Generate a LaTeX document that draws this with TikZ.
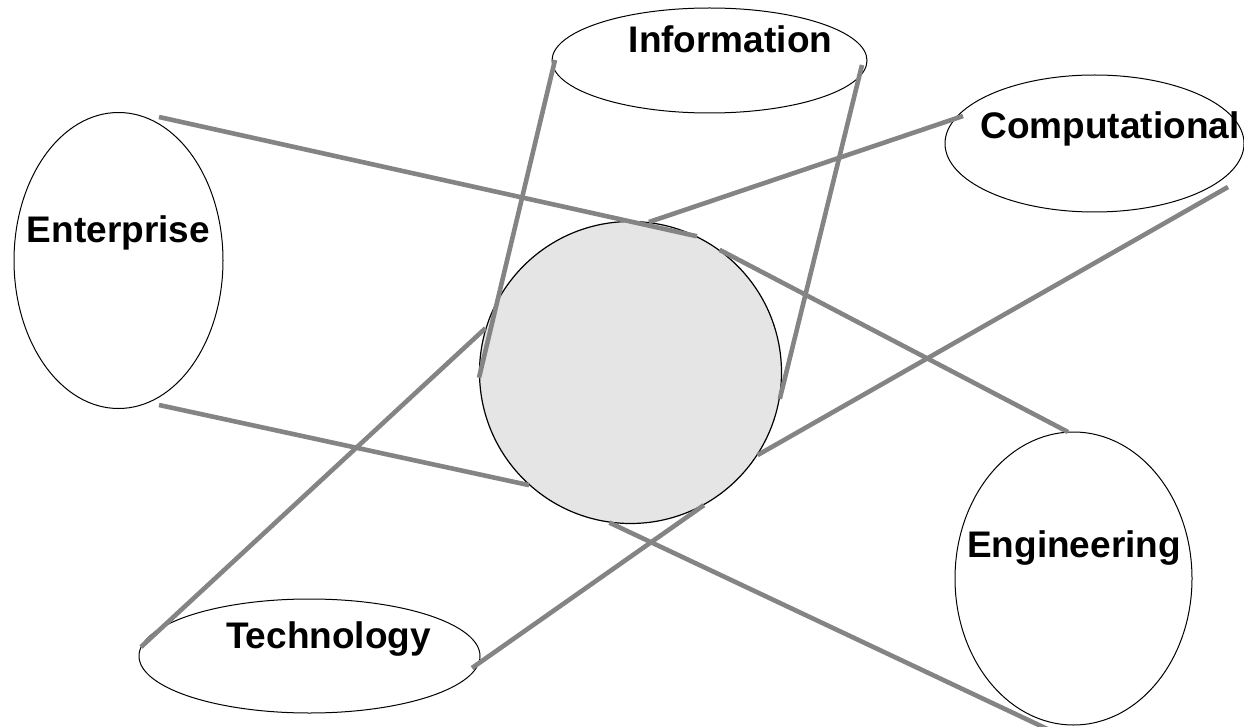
\documentclass[tikz,border=0pt]{standalone}
\usepackage{fontspec}
\setmainfont{Liberation Sans}
\usetikzlibrary{shapes.geometric}
\definecolor{linkgray}{RGB}{132,132,132}
\definecolor{hubfill}{RGB}{229,229,229}

\begin{document}
\begin{tikzpicture}[x=1pt,y=-1pt,line width=1pt,
                    font=\fontsize{37}{40}\selectfont\bfseries]
  \tikzstyle{view}=[ellipse,draw=black,fill=white,inner sep=0pt]
  \tikzstyle{core}=[circle,draw=black,fill=hubfill,line width=1.2pt,inner sep=0pt,minimum size=302pt]
  \tikzstyle{viewname}=[anchor=base,inner sep=0pt]
  \tikzstyle{link}=[draw=linkgray,line width=4.6pt]

  \useasboundingbox (0,0) rectangle (1244,727);

  \node[view,minimum width=209pt,minimum height=296pt] (ent) at (118.5,260.5)  {};
  \node[view,minimum width=315pt,minimum height=105pt] (inf) at (709.5,60.5)   {};
  \node[view,minimum width=299pt,minimum height=137pt] (cmp) at (1094.5,143.5) {};
  \node[view,minimum width=237pt,minimum height=293pt] (eng) at (1073.5,578.5) {};
  \node[view,minimum width=341pt,minimum height=114pt] (tec) at (309.5,656)    {};
  \node[core] (hub) at (630.5,372.5) {};

  \node[viewname] (ent-txt) at (118.5,243) {Enterprise};
  \node[viewname] (inf-txt) at (730.5,53)  {Information};
  \node[viewname] (cmp-txt) at (1110,139)  {Computational};
  \node[viewname] (eng-txt) at (1074,557)  {Engineering};
  \node[viewname] (tec-txt) at (328.5,648) {Technology};

  \coordinate (ent-a) at (159,117);
  \coordinate (ent-b) at (159,405);
  \coordinate (inf-a) at (555,60);
  \coordinate (inf-b) at (862,65);
  \coordinate (cmp-a) at (963,116);
  \coordinate (cmp-b) at (1228,187);
  \coordinate (eng-a) at (1068,432);
  \coordinate (eng-b) at (1060,735);
  \coordinate (tec-a) at (141,647);
  \coordinate (tec-b) at (472,668);

  \path[link] (ent-a) edge (hub.64)
              (ent-b) edge (hub.228)
              (inf-a) edge (hub.182)
              (inf-b) edge (hub.350)
              (cmp-a) edge (hub.83)
              (cmp-b) edge (hub.327)
              (hub.54)  edge (eng-a)
              (hub.262) edge (eng-b)
              (tec-a) edge (hub.163)
              (tec-b) edge (hub.299);
\end{tikzpicture}
\end{document}
